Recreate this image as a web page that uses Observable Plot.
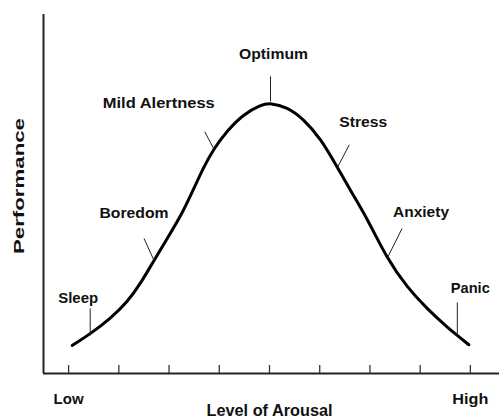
<!DOCTYPE html>
<html>
<head>
<meta charset="utf-8">
<script src="https://cdn.jsdelivr.net/npm/d3@7"></script>
<script src="https://cdn.jsdelivr.net/npm/@observablehq/plot@0.6"></script>
<style>
  html, body { margin: 0; padding: 0; background: #fff; }
  #chart svg { display: block; }
</style>
</head>
<body>
<div id="chart"></div>
<script>
// ---- Data ----
const arousal     = [0.07, 0.44, 0.83, 1.17, 1.43, 1.70, 1.96, 2.26, 2.49, 2.69, 2.89, 3.16, 3.49, 3.82, 4.02, 4.35, 4.68, 5.02, 5.35, 5.61, 5.95, 6.34, 6.74, 7.14, 7.54, 7.74, 7.97];
const performance = [0.78, 1.11, 1.53, 1.99, 2.50, 3.15, 3.75, 4.45, 5.14, 5.75, 6.26, 6.77, 7.23, 7.48, 7.54, 7.42, 7.09, 6.54, 5.75, 5.10, 4.31, 3.20, 2.40, 1.80, 1.29, 1.06, 0.80];

const stateNames       = ["Sleep", "Boredom", "Mild Alertness", "Optimum", "Stress", "Anxiety", "Panic"];
const stateArousal     = [0.43, 1.70, 2.89, 4.02, 5.35, 6.34, 7.74];
const statePerformance = [1.06, 3.15, 6.26, 7.58, 5.73, 3.20, 1.06];

const tickValues = [0, 1, 2, 3, 4, 5, 6, 7, 8];
const tickLabelValues = [0, 8];
const tickLabelTexts  = ["Low", "High"];
const xTitle = "Level of Arousal";
const yTitle = "Performance";

// ---- Layout / style (pixels) ----
const W = 499, H = 419;
const M = {top: 14, right: 0, bottom: 46, left: 43};
const xDomain = [-0.5, 8.58];
const yDomain = [0, 10];
const kx = (W - M.left - M.right) / (xDomain[1] - xDomain[0]);
const ky = (H - M.top - M.bottom) / (yDomain[1] - yDomain[0]);

// leader end offset and label centre offset relative to the touch point on the curve
const annLayout = {
  "Sleep":          {lx: 0,   ly: -27, tx: -12, ty: -37},
  "Boredom":        {lx: -10, ly: -22, tx: -20, ty: -47},
  "Mild Alertness": {lx: -9,  ly: -17, tx: -55, ty: -46},
  "Optimum":        {lx: 0,   ly: -25, tx: 3,   ty: -47},
  "Stress":         {lx: 12,  ly: -23, tx: 26,  ty: -46},
  "Anxiety":        {lx: 15,  ly: -30, tx: 34,  ty: -46},
  "Panic":          {lx: 0,   ly: -33, tx: 13,  ty: -47}
};
const textWidths = {
  "Sleep": 40, "Boredom": 69, "Mild Alertness": 112, "Optimum": 69, "Stress": 48,
  "Anxiety": 56, "Panic": 39, "Low": 30, "High": 36, "Level of Arousal": 126, "Performance": 136
};

const curve = arousal.map((x, i) => ({x, y: performance[i]}));
const states = stateNames.map((name, i) => {
  const L = annLayout[name];
  return {
    name,
    x: stateArousal[i], y: statePerformance[i],
    x2: stateArousal[i] + L.lx / kx, y2: statePerformance[i] - L.ly / ky,
    tx: stateArousal[i] + L.tx / kx, ty: statePerformance[i] - L.ty / ky
  };
});
const tickLabels = tickLabelValues.map((x, i) => ({x, label: tickLabelTexts[i]}));

const font = "'Liberation Sans', Arial, sans-serif";
const ink = "#111";

const plot = Plot.plot({
  width: W, height: H,
  marginTop: M.top, marginRight: M.right, marginBottom: M.bottom, marginLeft: M.left,
  x: {domain: xDomain, axis: null},
  y: {domain: yDomain, axis: null},
  style: {fontFamily: font, background: "#fff"},
  marks: [
    // axis lines
    Plot.ruleX([xDomain[0]], {stroke: "#222", strokeWidth: 2}),
    Plot.ruleY([yDomain[0]], {stroke: "#222", strokeWidth: 2}),
    // inward ticks
    Plot.ruleX(tickValues, {x: d => d, y1: 0, y2: 0, insetBottom: 8, stroke: "#333", strokeWidth: 1.3}),
    // Low / High
    Plot.text(tickLabels, {x: "x", y: 0, text: "label", dy: 26, fontSize: 14, fontWeight: "bold", fill: ink}),
    // x title
    Plot.text([xTitle], {x: 4, y: 0, text: d => d, dy: 37, fontSize: 16, fontWeight: "bold", fill: ink}),
    // y title
    Plot.text([yTitle], {frameAnchor: "left", textAnchor: "middle", text: d => d, rotate: -90, dx: -24, dy: -8, fontSize: 15, fontWeight: "bold", fill: ink}),
    // curve
    Plot.line(curve, {x: "x", y: "y", curve: "basis", stroke: "#000", strokeWidth: 3}),
    // leaders
    Plot.link(states, {x1: "x", y1: "y", x2: "x2", y2: "y2", stroke: "#222", strokeWidth: 1}),
    // labels
    Plot.text(states, {x: "tx", y: "ty", text: "name", fontSize: 15, fontWeight: "bold", fill: ink})
  ]
});

d3.select(plot).selectAll("text").each(function() {
  const t = this.textContent;
  if (textWidths[t] != null) {
    this.setAttribute("textLength", textWidths[t]);
    this.setAttribute("lengthAdjust", "spacingAndGlyphs");
  }
});

document.getElementById("chart").appendChild(plot);
</script>
</body>
</html>
